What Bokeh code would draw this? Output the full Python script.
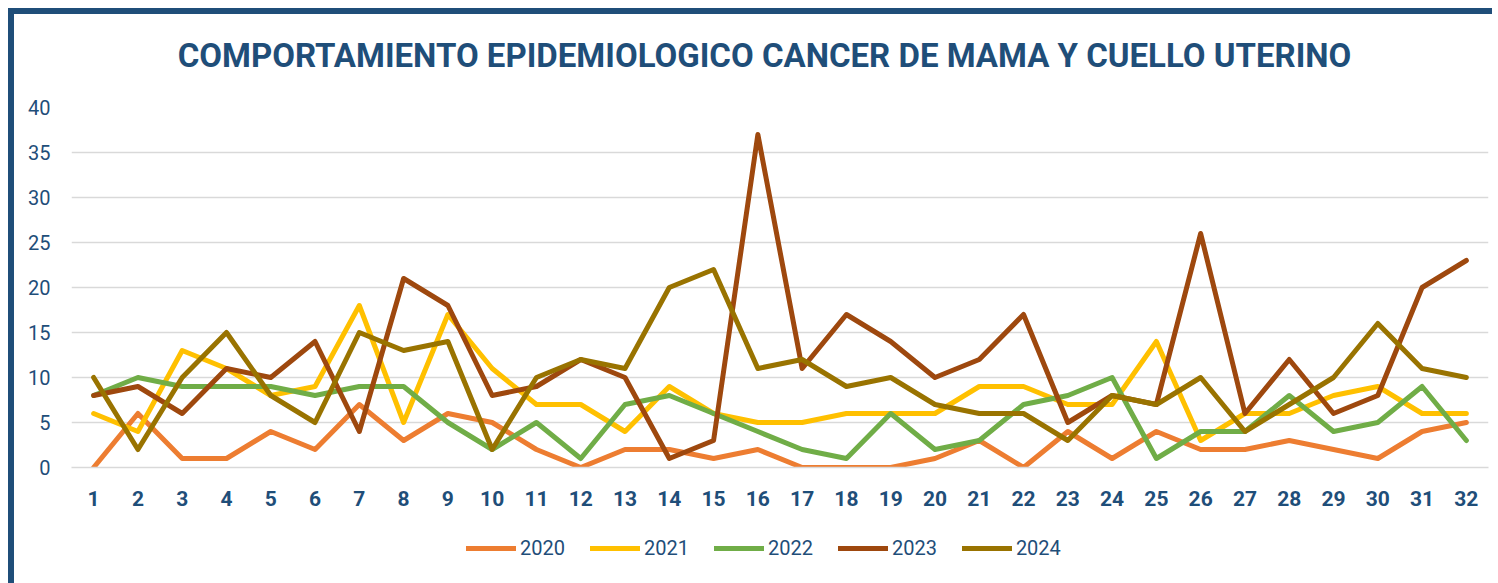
from bokeh.plotting import figure
from bokeh.models import Range1d, Legend, LegendItem, FixedTicker, Spacer, Label
from bokeh.layouts import column, row
from bokeh.embed import file_html
from bokeh.resources import INLINE

weeks = list(range(1, 33))
y2020 = [0, 6, 1, 1, 4, 2, 7, 3, 6, 5, 2, 0, 2, 2, 1, 2, 0, 0, 0, 1, 3, 0, 4, 1, 4, 2, 2, 3, 2, 1, 4, 5]
y2021 = [6, 4, 13, 11, 8, 9, 18, 5, 17, 11, 7, 7, 4, 9, 6, 5, 5, 6, 6, 6, 9, 9, 7, 7, 14, 3, 6, 6, 8, 9, 6, 6]
y2022 = [8, 10, 9, 9, 9, 8, 9, 9, 5, 2, 5, 1, 7, 8, 6, 4, 2, 1, 6, 2, 3, 7, 8, 10, 1, 4, 4, 8, 4, 5, 9, 3]
y2023 = [8, 9, 6, 11, 10, 14, 4, 21, 18, 8, 9, 12, 10, 1, 3, 37, 11, 17, 14, 10, 12, 17, 5, 8, 7, 26, 6, 12, 6, 8, 20, 23]
y2024 = [10, 2, 10, 15, 8, 5, 15, 13, 14, 2, 10, 12, 11, 20, 22, 11, 12, 9, 10, 7, 6, 6, 3, 8, 7, 10, 4, 7, 10, 16, 11, 10]
series_names = ["2020", "2021", "2022", "2023", "2024"]
series_values = [y2020, y2021, y2022, y2023, y2024]
colors = ["#ED7D31", "#FFC000", "#70AD47", "#9E480E", "#997300"]
y_ticks = [0, 5, 10, 15, 20, 25, 30, 35, 40]
title_text = "COMPORTAMIENTO EPIDEMIOLOGICO CANCER DE MAMA Y CUELLO UTERINO"

NAVY = "#1F4E79"
FONT = "Roboto"
W = 1484
FL, FR = 57, 10  # frame borders (shared by all three stacked figures)


def strip(height, styles):
    f = figure(width=W, height=height, output_backend="svg", toolbar_location=None, title=None,
               x_axis_location=None, y_axis_location=None,
               min_border_left=FL, min_border_right=FR, min_border_top=0, min_border_bottom=0)
    f.styles = styles
    f.grid.visible = False
    f.outline_line_color = None
    f.background_fill_color = "white"
    f.border_fill_color = "white"
    return f


# title strip (data coordinates = canvas pixels)
TH = 87
ttl = strip(TH, {"border-left": "6px solid " + NAVY, "border-top": "6px solid " + NAVY})
ttl.x_range = Range1d(FL, W - FR)
ttl.y_range = Range1d(0, TH - 6)
ttl.add_layout(Label(x=750, y=42.5, text=title_text, text_align="center", text_baseline="middle",
                     text_font=FONT, text_font_size="33px", text_font_style="bold",
                     text_color=NAVY))

# main chart
p = figure(width=W, height=432, output_backend="svg", toolbar_location=None, title=None,
           x_range=Range1d(0.5, 32.5), y_range=Range1d(0, 40),
           min_border_left=FL, min_border_right=FR, min_border_top=12, min_border_bottom=60)
p.styles = {"border-left": "6px solid " + NAVY}
p.outline_line_color = None
p.background_fill_color = "white"
p.border_fill_color = "white"

p.xgrid.grid_line_color = None
p.ygrid.grid_line_color = "#D9D9D9"
p.ygrid.grid_line_width = 1.5
p.ygrid.ticker = FixedTicker(ticks=y_ticks)

p.xaxis.ticker = FixedTicker(ticks=weeks)
p.xaxis.axis_line_color = "#D9D9D9"
p.xaxis.axis_line_width = 1.5
p.xaxis.major_tick_line_color = None
p.xaxis.minor_tick_line_color = None
p.xaxis.major_tick_out = 0
p.xaxis.major_label_standoff = 23
p.xaxis.major_label_text_font = FONT
p.xaxis.major_label_text_font_size = "21px"
p.xaxis.major_label_text_font_style = "bold"
p.xaxis.major_label_text_color = NAVY

p.yaxis.ticker = FixedTicker(ticks=y_ticks)
p.yaxis.axis_line_color = None
p.yaxis.major_tick_line_color = None
p.yaxis.minor_tick_line_color = None
p.yaxis.major_tick_out = 0
p.yaxis.major_label_standoff = 21
p.yaxis.major_label_text_font = FONT
p.yaxis.major_label_text_font_size = "20px"
p.yaxis.major_label_text_color = NAVY

for name, vals, c in zip(series_names, series_values, colors):
    p.line(weeks, vals, line_color=c, line_width=5, line_join="round", line_cap="round")

# legend strip below the chart (its lines fall outside the strip's range, only the legend shows)
leg = strip(56, {"border-left": "6px solid " + NAVY})
leg.x_range = Range1d(0, 1)
leg.y_range = Range1d(-2, -1)
items = []
for name, vals, c in zip(series_names, series_values, colors):
    r = leg.line(weeks, vals, line_color=c, line_width=5, line_cap="round")
    items.append(LegendItem(label=name, renderers=[r]))

legend = Legend(items=items, orientation="horizontal", location=(395, 23),
                glyph_width=50, glyph_height=20, label_height=20, label_standoff=4,
                spacing=25, padding=0, margin=0,
                label_text_font=FONT, label_text_font_size="20px", label_text_color=NAVY,
                border_line_color=None, background_fill_alpha=0)
leg.add_layout(legend, "center")

layout = column(Spacer(width=1498, height=8),
                row(Spacer(width=8, height=575), column(ttl, p, leg, spacing=0), spacing=0),
                spacing=0)

open("out.html", "w").write(file_html(layout, INLINE))
